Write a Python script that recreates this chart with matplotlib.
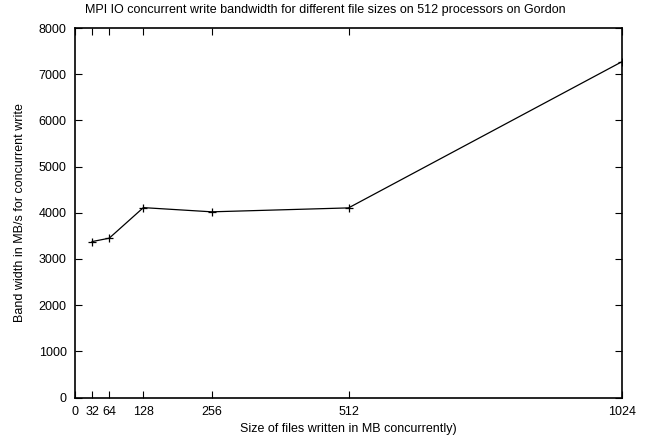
import matplotlib
matplotlib.use("Agg")
import matplotlib.pyplot as plt

# Données
file_sizes = [32, 64, 128, 256, 512, 1024]
bandwidth = [3376, 3449, 4111, 4020, 4105, 7271]
x_ticks = [0, 32, 64, 128, 256, 512, 1024]
y_ticks = [0, 1000, 2000, 3000, 4000, 5000, 6000, 7000, 8000]

plt.rcParams["font.family"] = ["Liberation Sans", "DejaVu Sans"]
plt.rcParams["font.size"] = 9

fig = plt.figure(figsize=(6.51, 4.40), dpi=100)
ax = fig.add_axes([75 / 651, 1 - 397.5 / 440, 547 / 651, 369.5 / 440])

ax.plot(file_sizes, bandwidth, color="black", linewidth=0.9,
        marker="+", markersize=5.5, markeredgewidth=0.9)

ax.set_xlim(0, 1024)
ax.set_ylim(0, 8000)
ax.set_xticks(x_ticks)
ax.set_yticks(y_ticks)
ax.tick_params(direction="in", top=True, right=True, length=5, width=0.8,
               colors="black", labelsize=9, pad=6)
for s in ax.spines.values():
    s.set_linewidth(1.2)

# Titre centré sur la figure (style gnuplot)
fig.text(0.5, 1 - 10 / 440,
         "MPI IO concurrent write bandwidth for different file sizes on 512 processors on Gordon",
         ha="center", va="center", fontsize=9)
ax.set_xlabel("Size of files written in MB concurrently)", fontsize=9, labelpad=4)
ax.set_ylabel("Band width in MB/s for concurrent write", fontsize=9, labelpad=9)

fig.savefig("out.png", dpi=100)
